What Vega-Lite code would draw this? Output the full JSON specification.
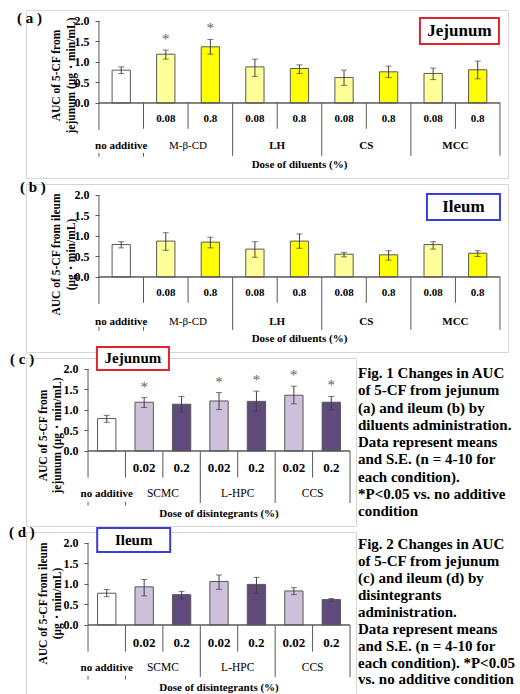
{
"$schema":"https://vega.github.io/schema/vega-lite/v6.json",
"background":"white",
"padding":{"left":8,"top":9,"right":0,"bottom":0},
"config":{"font":"Liberation Serif","view":{"stroke":"#d6d6d6","strokeWidth":1},"text":{"fontWeight":"bold","fontSize":11,"color":"black","font":"Liberation Serif"}},
"resolve":{"scale":{"fill":"independent"}},
"datasets":{
"dj":[
{"key":"no additive","grp":"no additive","dose":"","mean":0.80,"lo":0.72,"hi":0.88,"sig":false},
{"key":"M-β-CD 0.08","grp":"M-β-CD","dose":"0.08","mean":1.19,"lo":1.07,"hi":1.29,"sig":true},
{"key":"M-β-CD 0.8","grp":"M-β-CD","dose":"0.8","mean":1.37,"lo":1.19,"hi":1.55,"sig":true},
{"key":"LH 0.08","grp":"LH","dose":"0.08","mean":0.88,"lo":0.65,"hi":1.07,"sig":false},
{"key":"LH 0.8","grp":"LH","dose":"0.8","mean":0.84,"lo":0.72,"hi":0.93,"sig":false},
{"key":"CS 0.08","grp":"CS","dose":"0.08","mean":0.62,"lo":0.43,"hi":0.80,"sig":false},
{"key":"CS 0.8","grp":"CS","dose":"0.8","mean":0.76,"lo":0.62,"hi":0.90,"sig":false},
{"key":"MCC 0.08","grp":"MCC","dose":"0.08","mean":0.72,"lo":0.57,"hi":0.85,"sig":false},
{"key":"MCC 0.8","grp":"MCC","dose":"0.8","mean":0.81,"lo":0.59,"hi":1.02,"sig":false}],
"di":[
{"key":"no additive","grp":"no additive","dose":"","mean":0.79,"lo":0.71,"hi":0.86,"sig":false},
{"key":"M-β-CD 0.08","grp":"M-β-CD","dose":"0.08","mean":0.875,"lo":0.65,"hi":1.08,"sig":false},
{"key":"M-β-CD 0.8","grp":"M-β-CD","dose":"0.8","mean":0.85,"lo":0.71,"hi":0.97,"sig":false},
{"key":"LH 0.08","grp":"LH","dose":"0.08","mean":0.68,"lo":0.48,"hi":0.86,"sig":false},
{"key":"LH 0.8","grp":"LH","dose":"0.8","mean":0.875,"lo":0.70,"hi":1.05,"sig":false},
{"key":"CS 0.08","grp":"CS","dose":"0.08","mean":0.555,"lo":0.49,"hi":0.60,"sig":false},
{"key":"CS 0.8","grp":"CS","dose":"0.8","mean":0.54,"lo":0.41,"hi":0.64,"sig":false},
{"key":"MCC 0.08","grp":"MCC","dose":"0.08","mean":0.79,"lo":0.68,"hi":0.86,"sig":false},
{"key":"MCC 0.8","grp":"MCC","dose":"0.8","mean":0.58,"lo":0.50,"hi":0.64,"sig":false}],
"sj":[
{"key":"no additive","grp":"no additive","dose":"","mean":0.79,"lo":0.70,"hi":0.87,"sig":false},
{"key":"SCMC 0.02","grp":"SCMC","dose":"0.02","mean":1.19,"lo":1.06,"hi":1.30,"sig":true},
{"key":"SCMC 0.2","grp":"SCMC","dose":"0.2","mean":1.14,"lo":0.95,"hi":1.33,"sig":false},
{"key":"L-HPC 0.02","grp":"L-HPC","dose":"0.02","mean":1.22,"lo":1.01,"hi":1.425,"sig":true},
{"key":"L-HPC 0.2","grp":"L-HPC","dose":"0.2","mean":1.21,"lo":0.97,"hi":1.46,"sig":true},
{"key":"CCS 0.02","grp":"CCS","dose":"0.02","mean":1.36,"lo":1.15,"hi":1.58,"sig":true},
{"key":"CCS 0.2","grp":"CCS","dose":"0.2","mean":1.19,"lo":1.00,"hi":1.33,"sig":true}],
"si":[
{"key":"no additive","grp":"no additive","dose":"","mean":0.775,"lo":0.69,"hi":0.865,"sig":false},
{"key":"SCMC 0.02","grp":"SCMC","dose":"0.02","mean":0.93,"lo":0.71,"hi":1.11,"sig":false},
{"key":"SCMC 0.2","grp":"SCMC","dose":"0.2","mean":0.74,"lo":0.64,"hi":0.82,"sig":false},
{"key":"L-HPC 0.02","grp":"L-HPC","dose":"0.02","mean":1.06,"lo":0.87,"hi":1.22,"sig":false},
{"key":"L-HPC 0.2","grp":"L-HPC","dose":"0.2","mean":0.99,"lo":0.77,"hi":1.16,"sig":false},
{"key":"CCS 0.02","grp":"CCS","dose":"0.02","mean":0.83,"lo":0.74,"hi":0.91,"sig":false},
{"key":"CCS 0.2","grp":"CCS","dose":"0.2","mean":0.62,"lo":0.57,"hi":0.645,"sig":false}]
},
"vconcat":[
{
"width":482,"height":168,
"title":{"text":"( a )","anchor":"start","frame":"group","offset":0,"dx":-9,"dy":23,"baseline":"middle","fontSize":15,"fontWeight":"bold","color":"black","font":"Liberation Serif"},
"data":{"name":"dj"},
"layer":[
{"mark":{"type":"bar","width":{"band":0.41},"stroke":"#595959","strokeWidth":1},
"encoding":{"x":{"field":"key","type":"nominal","axis":null,"scale":{"domain":["no additive","M-β-CD 0.08","M-β-CD 0.8","LH 0.08","LH 0.8","CS 0.08","CS 0.8","MCC 0.08","MCC 0.8"],"paddingInner":0,"paddingOuter":0.9085,"align":0.901}},
"y":{"field":"mean","type":"quantitative","title":["AUC of 5-CF from","jejunum (μg・min/mL)"],"scale":{"domain":[-1.83,2.268],"nice":false,"zero":false},
"axis":{"values":[0,0.5,1,1.5,2],"format":".1f","domain":false,"grid":false,"offset":-73,"tickSize":4,"tickColor":"#595959","labelFont":"Liberation Serif","labelFontWeight":"bold","labelFontSize":12,"labelColor":"black","labelPadding":6,"titleFont":"Liberation Serif","titleFontWeight":"bold","titleFontSize":11.5,"titleColor":"black","titleX":-43,"titleY":65,"titleAngle":270,"titleAlign":"center","titleBaseline":"middle","titleLineHeight":15.5}},
"y2":{"datum":0},
"fill":{"field":"dose","type":"nominal","scale":{"domain":["","0.08","0.8"],"range":["#ffffff","#ffff99","#ffff00"]},"legend":null}}},
{"mark":{"type":"errorbar","color":"#404040","thickness":1,"ticks":{"size":6}},
"encoding":{"x":{"field":"key","type":"nominal","axis":null},"y":{"field":"lo","type":"quantitative","title":["AUC of 5-CF from","jejunum (μg・min/mL)"]},"y2":{"field":"hi","title":["AUC of 5-CF from","jejunum (μg・min/mL)"]}}},
{"transform":[{"filter":"datum.grp == 'no additive'"}],"mark":{"type":"rule","color":"#595959"},
"encoding":{"x":{"field":"key","type":"nominal","axis":null,"bandPosition":0},"y":{"datum":2},"y2":{"datum":-0.66}}},
{"transform":[{"filter":"datum.dose == '0.8' || datum.key == 'M-β-CD 0.08'"}],"mark":{"type":"rule","color":"#595959"},
"encoding":{"x":{"field":"key","type":"nominal","axis":null,"bandPosition":0},"y":{"datum":0},"y2":{"datum":-0.63}}},
{"transform":[{"filter":"datum.dose == '0.08' && datum.grp != 'M-β-CD'"}],"mark":{"type":"rule","color":"#595959"},
"encoding":{"x":{"field":"key","type":"nominal","axis":null,"bandPosition":0},"y":{"datum":0},"y2":{"datum":-1.29}}},
{"transform":[{"filter":"datum.key == 'MCC 0.8'"}],"mark":{"type":"rule","color":"#595959"},
"encoding":{"x":{"field":"key","type":"nominal","axis":null,"bandPosition":1},"y":{"datum":0},"y2":{"datum":-1.29}}},
{"transform":[{"filter":"datum.grp == 'no additive' || datum.key == 'M-β-CD 0.08'"}],"mark":{"type":"rule","color":"#595959"},
"encoding":{"x":{"field":"key","type":"nominal","axis":null,"bandPosition":0},"y":{"datum":-1.22},"y2":{"datum":-1.31}}},
{"mark":{"type":"bar","width":{"band":1},"fill":"transparent","stroke":"#595959","strokeWidth":1},
"encoding":{"x":{"field":"key","type":"nominal","axis":null},"y":{"datum":0},"y2":{"datum":0}}},
{"transform":[{"filter":"datum.sig"}],"mark":{"type":"text","text":"*","fontSize":15,"fontWeight":"normal","color":"#606060","fill":"#606060","baseline":"bottom","dy":-3},
"encoding":{"x":{"field":"key","type":"nominal","axis":null},"y":{"field":"hi","type":"quantitative","title":["AUC of 5-CF from","jejunum (μg・min/mL)"]}}},
{"transform":[{"filter":"datum.dose != ''"}],"mark":{"type":"text","fontSize":11,"baseline":"middle"},
"encoding":{"x":{"field":"key","type":"nominal","axis":null},"y":{"datum":-0.39},"text":{"field":"dose"}}},
{"transform":[{"filter":"datum.dose == '0.8' && datum.grp != 'M-β-CD'"}],"mark":{"type":"text","fontSize":11,"baseline":"middle"},
"encoding":{"x":{"field":"key","type":"nominal","axis":null,"bandPosition":0},"y":{"datum":-1.05},"text":{"field":"grp"}}},
{"transform":[{"filter":"datum.key == 'M-β-CD 0.8'"}],"mark":{"type":"text","fontSize":11,"fontWeight":"normal","baseline":"middle"},
"encoding":{"x":{"field":"key","type":"nominal","axis":null,"bandPosition":0},"y":{"datum":-1.05},"text":{"field":"grp"}}},
{"transform":[{"filter":"datum.grp == 'no additive'"}],"mark":{"type":"text","fontSize":11,"baseline":"middle"},
"encoding":{"x":{"field":"key","type":"nominal","axis":null},"y":{"datum":-1.05},"text":{"field":"grp"}}},
{"transform":[{"filter":"datum.key == 'LH 0.8'"}],"mark":{"type":"text","text":"Dose of diluents (%)","fontSize":11,"baseline":"middle"},
"encoding":{"x":{"field":"key","type":"nominal","axis":null},"y":{"datum":-1.51}}},
{"transform":[{"filter":"datum.key == 'MCC 0.8'"}],"mark":{"type":"point","shape":"M-1,-0.329H1V0.329H-1Z","size":6241,"filled":true,"fill":"white","stroke":"#e0242b","strokeWidth":2,"opacity":1},
"encoding":{"x":{"field":"key","type":"nominal","axis":null,"bandPosition":0.09},"y":{"datum":1.756}}},
{"transform":[{"filter":"datum.key == 'MCC 0.8'"}],"mark":{"type":"text","text":"Jejunum","fontSize":17,"baseline":"middle"},
"encoding":{"x":{"field":"key","type":"nominal","axis":null,"bandPosition":0.09},"y":{"datum":1.756}}}
]
},
{
"width":482,"height":168,
"title":{"text":"( b )","anchor":"start","frame":"group","offset":0,"dx":-6,"dy":18,"baseline":"middle","fontSize":15,"fontWeight":"bold","color":"black","font":"Liberation Serif"},
"data":{"name":"di"},
"layer":[
{"mark":{"type":"bar","width":{"band":0.41},"stroke":"#595959","strokeWidth":1},
"encoding":{"x":{"field":"key","type":"nominal","axis":null,"scale":{"domain":["no additive","M-β-CD 0.08","M-β-CD 0.8","LH 0.08","LH 0.8","CS 0.08","CS 0.8","MCC 0.08","MCC 0.8"],"paddingInner":0,"paddingOuter":0.9085,"align":0.901}},
"y":{"field":"mean","type":"quantitative","title":["AUC of 5-CF from ileum","(μg・min/mL)"],"scale":{"domain":[-1.83,2.268],"nice":false,"zero":false},
"axis":{"values":[0,0.5,1,1.5,2],"format":".1f","domain":false,"grid":false,"offset":-73,"tickSize":4,"tickColor":"#595959","labelFont":"Liberation Serif","labelFontWeight":"bold","labelFontSize":12,"labelColor":"black","labelPadding":6,"titleFont":"Liberation Serif","titleFontWeight":"bold","titleFontSize":11.5,"titleColor":"black","titleX":-43,"titleY":70,"titleAngle":270,"titleAlign":"center","titleBaseline":"middle","titleLineHeight":15.5}},
"y2":{"datum":0},
"fill":{"field":"dose","type":"nominal","scale":{"domain":["","0.08","0.8"],"range":["#ffffff","#ffff99","#ffff00"]},"legend":null}}},
{"mark":{"type":"errorbar","color":"#404040","thickness":1,"ticks":{"size":6}},
"encoding":{"x":{"field":"key","type":"nominal","axis":null},"y":{"field":"lo","type":"quantitative","title":["AUC of 5-CF from ileum","(μg・min/mL)"]},"y2":{"field":"hi","title":["AUC of 5-CF from ileum","(μg・min/mL)"]}}},
{"transform":[{"filter":"datum.grp == 'no additive'"}],"mark":{"type":"rule","color":"#595959"},
"encoding":{"x":{"field":"key","type":"nominal","axis":null,"bandPosition":0},"y":{"datum":2},"y2":{"datum":-0.66}}},
{"transform":[{"filter":"datum.dose == '0.8' || datum.key == 'M-β-CD 0.08'"}],"mark":{"type":"rule","color":"#595959"},
"encoding":{"x":{"field":"key","type":"nominal","axis":null,"bandPosition":0},"y":{"datum":0},"y2":{"datum":-0.63}}},
{"transform":[{"filter":"datum.dose == '0.08' && datum.grp != 'M-β-CD'"}],"mark":{"type":"rule","color":"#595959"},
"encoding":{"x":{"field":"key","type":"nominal","axis":null,"bandPosition":0},"y":{"datum":0},"y2":{"datum":-1.29}}},
{"transform":[{"filter":"datum.key == 'MCC 0.8'"}],"mark":{"type":"rule","color":"#595959"},
"encoding":{"x":{"field":"key","type":"nominal","axis":null,"bandPosition":1},"y":{"datum":0},"y2":{"datum":-1.29}}},
{"transform":[{"filter":"datum.grp == 'no additive' || datum.key == 'M-β-CD 0.08'"}],"mark":{"type":"rule","color":"#595959"},
"encoding":{"x":{"field":"key","type":"nominal","axis":null,"bandPosition":0},"y":{"datum":-1.22},"y2":{"datum":-1.31}}},
{"mark":{"type":"bar","width":{"band":1},"fill":"transparent","stroke":"#595959","strokeWidth":1},
"encoding":{"x":{"field":"key","type":"nominal","axis":null},"y":{"datum":0},"y2":{"datum":0}}},
{"transform":[{"filter":"datum.dose != ''"}],"mark":{"type":"text","fontSize":11,"baseline":"middle"},
"encoding":{"x":{"field":"key","type":"nominal","axis":null},"y":{"datum":-0.39},"text":{"field":"dose"}}},
{"transform":[{"filter":"datum.dose == '0.8' && datum.grp != 'M-β-CD'"}],"mark":{"type":"text","fontSize":11,"baseline":"middle"},
"encoding":{"x":{"field":"key","type":"nominal","axis":null,"bandPosition":0},"y":{"datum":-1.1},"text":{"field":"grp"}}},
{"transform":[{"filter":"datum.key == 'M-β-CD 0.8'"}],"mark":{"type":"text","fontSize":11,"fontWeight":"normal","baseline":"middle"},
"encoding":{"x":{"field":"key","type":"nominal","axis":null,"bandPosition":0},"y":{"datum":-1.1},"text":{"field":"grp"}}},
{"transform":[{"filter":"datum.grp == 'no additive'"}],"mark":{"type":"text","fontSize":11,"baseline":"middle"},
"encoding":{"x":{"field":"key","type":"nominal","axis":null},"y":{"datum":-1.1},"text":{"field":"grp"}}},
{"transform":[{"filter":"datum.key == 'LH 0.8'"}],"mark":{"type":"text","text":"Dose of diluents (%)","fontSize":11,"baseline":"middle"},
"encoding":{"x":{"field":"key","type":"nominal","axis":null},"y":{"datum":-1.51}}},
{"transform":[{"filter":"datum.key == 'MCC 0.8'"}],"mark":{"type":"point","shape":"M-1,-0.356H1V0.356H-1Z","size":5329,"filled":true,"fill":"white","stroke":"#3c3cdc","strokeWidth":2,"opacity":1},
"encoding":{"x":{"field":"key","type":"nominal","axis":null,"bandPosition":0.18},"y":{"datum":1.707}}},
{"transform":[{"filter":"datum.key == 'MCC 0.8'"}],"mark":{"type":"text","text":"Ileum","fontSize":17,"baseline":"middle"},
"encoding":{"x":{"field":"key","type":"nominal","axis":null,"bandPosition":0.18},"y":{"datum":1.707}}}
]
},
{
"width":330,"height":168,
"title":{"text":"( c )","anchor":"start","frame":"group","offset":0,"dx":-16,"dy":31,"baseline":"middle","fontSize":15,"fontWeight":"bold","color":"black","font":"Liberation Serif"},
"data":{"name":"sj"},
"layer":[
{"mark":{"type":"bar","width":{"band":0.49},"stroke":"#595959","strokeWidth":1},
"encoding":{"x":{"field":"key","type":"nominal","axis":null,"scale":{"domain":["no additive","SCMC 0.02","SCMC 0.2","L-HPC 0.02","L-HPC 0.2","CCS 0.02","CCS 0.2"],"paddingInner":0,"paddingOuter":0.9084,"align":0.912}},
"y":{"field":"mean","type":"quantitative","title":["AUC of 5-CF from","jejunum (μg・min/mL)"],"scale":{"domain":[-1.83,2.268],"nice":false,"zero":false},
"axis":{"values":[0,0.5,1,1.5,2],"format":".1f","domain":false,"grid":false,"offset":-62,"tickSize":4,"tickColor":"#595959","labelFont":"Liberation Serif","labelFontWeight":"bold","labelFontSize":12,"labelColor":"black","labelPadding":6,"titleFont":"Liberation Serif","titleFontWeight":"bold","titleFontSize":11.5,"titleColor":"black","titleX":-45,"titleY":77,"titleAngle":270,"titleAlign":"center","titleBaseline":"middle","titleLineHeight":14.5}},
"y2":{"datum":0},
"fill":{"field":"dose","type":"nominal","scale":{"domain":["","0.02","0.2"],"range":["#ffffff","#ccc0da","#604a7b"]},"legend":null}}},
{"mark":{"type":"errorbar","color":"#404040","thickness":1,"ticks":{"size":6}},
"encoding":{"x":{"field":"key","type":"nominal","axis":null},"y":{"field":"lo","type":"quantitative","title":["AUC of 5-CF from","jejunum (μg・min/mL)"]},"y2":{"field":"hi","title":["AUC of 5-CF from","jejunum (μg・min/mL)"]}}},
{"transform":[{"filter":"datum.grp == 'no additive'"}],"mark":{"type":"rule","color":"#595959"},
"encoding":{"x":{"field":"key","type":"nominal","axis":null,"bandPosition":0},"y":{"datum":2},"y2":{"datum":-0.65}}},
{"transform":[{"filter":"datum.dose == '0.2' || datum.key == 'SCMC 0.02'"}],"mark":{"type":"rule","color":"#595959"},
"encoding":{"x":{"field":"key","type":"nominal","axis":null,"bandPosition":0},"y":{"datum":0},"y2":{"datum":-0.65}}},
{"transform":[{"filter":"datum.dose == '0.02' && datum.grp != 'SCMC'"}],"mark":{"type":"rule","color":"#595959"},
"encoding":{"x":{"field":"key","type":"nominal","axis":null,"bandPosition":0},"y":{"datum":0},"y2":{"datum":-1.27}}},
{"transform":[{"filter":"datum.key == 'CCS 0.2'"}],"mark":{"type":"rule","color":"#595959"},
"encoding":{"x":{"field":"key","type":"nominal","axis":null,"bandPosition":1},"y":{"datum":0},"y2":{"datum":-1.27}}},
{"transform":[{"filter":"datum.grp == 'no additive' || datum.key == 'SCMC 0.02'"}],"mark":{"type":"rule","color":"#595959"},
"encoding":{"x":{"field":"key","type":"nominal","axis":null,"bandPosition":0},"y":{"datum":-1.24},"y2":{"datum":-1.33}}},
{"mark":{"type":"bar","width":{"band":1},"fill":"transparent","stroke":"#595959","strokeWidth":1},
"encoding":{"x":{"field":"key","type":"nominal","axis":null},"y":{"datum":0},"y2":{"datum":0}}},
{"transform":[{"filter":"datum.sig"}],"mark":{"type":"text","text":"*","fontSize":15,"fontWeight":"normal","color":"#606060","fill":"#606060","baseline":"bottom","dy":-3},
"encoding":{"x":{"field":"key","type":"nominal","axis":null},"y":{"field":"hi","type":"quantitative","title":["AUC of 5-CF from","jejunum (μg・min/mL)"]}}},
{"transform":[{"filter":"datum.dose != ''"}],"mark":{"type":"text","fontSize":13,"baseline":"middle"},
"encoding":{"x":{"field":"key","type":"nominal","axis":null},"y":{"datum":-0.415},"text":{"field":"dose"}}},
{"transform":[{"filter":"datum.dose == '0.2'"}],"mark":{"type":"text","fontSize":11.5,"fontWeight":"normal","baseline":"middle"},
"encoding":{"x":{"field":"key","type":"nominal","axis":null,"bandPosition":0},"y":{"datum":-1.05},"text":{"field":"grp"}}},
{"transform":[{"filter":"datum.grp == 'no additive'"}],"mark":{"type":"text","fontSize":11,"baseline":"middle"},
"encoding":{"x":{"field":"key","type":"nominal","axis":null},"y":{"datum":-1.05},"text":{"field":"grp"}}},
{"transform":[{"filter":"datum.key == 'L-HPC 0.02'"}],"mark":{"type":"text","text":"Dose of disintegrants (%)","fontSize":11,"baseline":"middle"},
"encoding":{"x":{"field":"key","type":"nominal","axis":null},"y":{"datum":-1.54}}},
{"transform":[{"filter":"datum.key == 'SCMC 0.02'"}],"mark":{"type":"point","shape":"M-1,-0.319H1V0.319H-1Z","size":5184,"filled":true,"fill":"white","stroke":"#e0242b","strokeWidth":2,"opacity":1},
"encoding":{"x":{"field":"key","type":"nominal","axis":null,"bandPosition":0.2},"y":{"datum":2.256}}},
{"transform":[{"filter":"datum.key == 'SCMC 0.02'"}],"mark":{"type":"text","text":"Jejunum","fontSize":15,"baseline":"middle"},
"encoding":{"x":{"field":"key","type":"nominal","axis":null,"bandPosition":0.2},"y":{"datum":2.256}}},
{"transform":[{"filter":"datum.key == 'CCS 0.2'"}],"mark":{"type":"text","text":["Fig. 1 Changes in AUC","of 5-CF from jejunum","(a) and ileum (b) by","diluents administration.","Data represent means","and S.E. (n = 4-10 for","each condition).","*P<0.05 vs. no additive","condition"],"align":"left","baseline":"middle","dx":8,"fontSize":15,"lineHeight":17.25},
"encoding":{"x":{"field":"key","type":"nominal","axis":null,"bandPosition":1},"y":{"datum":1.902}}}
]
},
{
"width":330,"height":168,
"title":{"text":"( d )","anchor":"start","frame":"group","offset":0,"dx":-17,"dy":23,"baseline":"middle","fontSize":15,"fontWeight":"bold","color":"black","font":"Liberation Serif"},
"data":{"name":"si"},
"layer":[
{"mark":{"type":"bar","width":{"band":0.49},"stroke":"#595959","strokeWidth":1},
"encoding":{"x":{"field":"key","type":"nominal","axis":null,"scale":{"domain":["no additive","SCMC 0.02","SCMC 0.2","L-HPC 0.02","L-HPC 0.2","CCS 0.02","CCS 0.2"],"paddingInner":0,"paddingOuter":0.9084,"align":0.912}},
"y":{"field":"mean","type":"quantitative","title":["AUC of 5-CF from ileum","(μg・min/mL)"],"scale":{"domain":[-1.83,2.268],"nice":false,"zero":false},
"axis":{"values":[0,0.5,1,1.5,2],"format":".1f","domain":false,"grid":false,"offset":-62,"tickSize":4,"tickColor":"#595959","labelFont":"Liberation Serif","labelFontWeight":"bold","labelFontSize":12,"labelColor":"black","labelPadding":6,"titleFont":"Liberation Serif","titleFontWeight":"bold","titleFontSize":11.5,"titleColor":"black","titleX":-45,"titleY":71,"titleAngle":270,"titleAlign":"center","titleBaseline":"middle","titleLineHeight":14.5}},
"y2":{"datum":0},
"fill":{"field":"dose","type":"nominal","scale":{"domain":["","0.02","0.2"],"range":["#ffffff","#ccc0da","#604a7b"]},"legend":null}}},
{"mark":{"type":"errorbar","color":"#404040","thickness":1,"ticks":{"size":6}},
"encoding":{"x":{"field":"key","type":"nominal","axis":null},"y":{"field":"lo","type":"quantitative","title":["AUC of 5-CF from ileum","(μg・min/mL)"]},"y2":{"field":"hi","title":["AUC of 5-CF from ileum","(μg・min/mL)"]}}},
{"transform":[{"filter":"datum.grp == 'no additive'"}],"mark":{"type":"rule","color":"#595959"},
"encoding":{"x":{"field":"key","type":"nominal","axis":null,"bandPosition":0},"y":{"datum":2},"y2":{"datum":-0.65}}},
{"transform":[{"filter":"datum.dose == '0.2' || datum.key == 'SCMC 0.02'"}],"mark":{"type":"rule","color":"#595959"},
"encoding":{"x":{"field":"key","type":"nominal","axis":null,"bandPosition":0},"y":{"datum":0},"y2":{"datum":-0.65}}},
{"transform":[{"filter":"datum.dose == '0.02' && datum.grp != 'SCMC'"}],"mark":{"type":"rule","color":"#595959"},
"encoding":{"x":{"field":"key","type":"nominal","axis":null,"bandPosition":0},"y":{"datum":0},"y2":{"datum":-1.27}}},
{"transform":[{"filter":"datum.key == 'CCS 0.2'"}],"mark":{"type":"rule","color":"#595959"},
"encoding":{"x":{"field":"key","type":"nominal","axis":null,"bandPosition":1},"y":{"datum":0},"y2":{"datum":-1.27}}},
{"transform":[{"filter":"datum.grp == 'no additive' || datum.key == 'SCMC 0.02'"}],"mark":{"type":"rule","color":"#595959"},
"encoding":{"x":{"field":"key","type":"nominal","axis":null,"bandPosition":0},"y":{"datum":-1.24},"y2":{"datum":-1.33}}},
{"mark":{"type":"bar","width":{"band":1},"fill":"transparent","stroke":"#595959","strokeWidth":1},
"encoding":{"x":{"field":"key","type":"nominal","axis":null},"y":{"datum":0},"y2":{"datum":0}}},
{"transform":[{"filter":"datum.dose != ''"}],"mark":{"type":"text","fontSize":13,"baseline":"middle"},
"encoding":{"x":{"field":"key","type":"nominal","axis":null},"y":{"datum":-0.44},"text":{"field":"dose"}}},
{"transform":[{"filter":"datum.dose == '0.2'"}],"mark":{"type":"text","fontSize":11.5,"fontWeight":"normal","baseline":"middle"},
"encoding":{"x":{"field":"key","type":"nominal","axis":null,"bandPosition":0},"y":{"datum":-1.05},"text":{"field":"grp"}}},
{"transform":[{"filter":"datum.grp == 'no additive'"}],"mark":{"type":"text","fontSize":11,"baseline":"middle"},
"encoding":{"x":{"field":"key","type":"nominal","axis":null},"y":{"datum":-1.05},"text":{"field":"grp"}}},
{"transform":[{"filter":"datum.key == 'L-HPC 0.02'"}],"mark":{"type":"text","text":"Dose of disintegrants (%)","fontSize":11,"baseline":"middle"},
"encoding":{"x":{"field":"key","type":"nominal","axis":null},"y":{"datum":-1.54}}},
{"transform":[{"filter":"datum.key == 'SCMC 0.02'"}],"mark":{"type":"point","shape":"M-1,-0.329H1V0.329H-1Z","size":5329,"filled":true,"fill":"white","stroke":"#3c3cdc","strokeWidth":2,"opacity":1},
"encoding":{"x":{"field":"key","type":"nominal","axis":null,"bandPosition":0.22},"y":{"datum":2.073}}},
{"transform":[{"filter":"datum.key == 'SCMC 0.02'"}],"mark":{"type":"text","text":"Ileum","fontSize":15,"baseline":"middle"},
"encoding":{"x":{"field":"key","type":"nominal","axis":null,"bandPosition":0.22},"y":{"datum":2.073}}},
{"transform":[{"filter":"datum.key == 'CCS 0.2'"}],"mark":{"type":"text","text":["Fig. 2 Changes in AUC","of 5-CF from jejunum","(c) and ileum (d) by","disintegrants","administration.","Data represent means","and S.E. (n = 4-10 for","each condition). *P<0.05","vs. no additive condition"],"align":"left","baseline":"middle","dx":8,"fontSize":15,"lineHeight":16.9},
"encoding":{"x":{"field":"key","type":"nominal","axis":null,"bandPosition":1},"y":{"datum":1.968}}}
]
}
],
"spacing":6,
"bounds":"flush"
}
